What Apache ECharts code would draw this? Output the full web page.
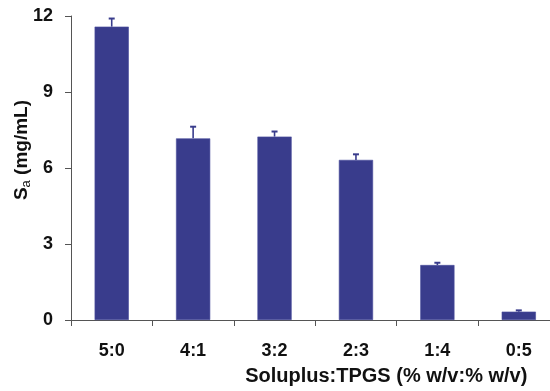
<!DOCTYPE html>
<html>
<head>
<meta charset="utf-8">
<script src="https://cdn.jsdelivr.net/npm/echarts@6/dist/echarts.min.js"></script>
<style>html,body{margin:0;padding:0;background:#fff}#c{width:550px;height:391px}</style>
</head>
<body>
<div id="c"></div>
<script>
var categories = ['5:0', '4:1', '3:2', '2:3', '1:4', '0:5'];
var values = [11.58, 7.17, 7.24, 6.32, 2.17, 0.33];
var errors = [0.32, 0.46, 0.2, 0.22, 0.09, 0.05];
var yTicks = [0, 3, 6, 9, 12];

var chart = echarts.init(document.getElementById('c'), null, {renderer: 'canvas'});
var font = 'Liberation Sans, Arial, sans-serif';
var axisColor = '#555';
var barColor = '#393C8C';

var errData = values.map(function (v, i) { return [i, v, v + errors[i]]; });

chart.setOption({
  animation: false,
  backgroundColor: '#fff',
  grid: {left: 71, top: 16, bottom: 71, right: -9.5, containLabel: false, outerBoundsMode: 'none'},
  xAxis: {
    type: 'category',
    data: categories,
    boundaryGap: true,
    axisLine: {lineStyle: {color: axisColor, width: 1}},
    axisTick: {show: true, length: 6, inside: false, alignWithLabel: false, lineStyle: {color: axisColor}},
    axisLabel: {margin: 22, color: '#111', fontFamily: font, fontWeight: 'bold', fontSize: 18},
    name: 'Soluplus:TPGS (% w/v:% w/v)',
    nameLocation: 'middle',
    nameGap: 46,
    nameMoveOverlap: false,
    nameTextStyle: {color: '#111', fontFamily: font, fontWeight: 'bold', fontSize: 20, padding: [0, 0, 0, 142]}
  },
  yAxis: {
    type: 'value',
    min: 0, max: 12, interval: 3,
    splitLine: {show: false},
    axisLine: {show: true, lineStyle: {color: axisColor, width: 1}},
    axisTick: {show: true, length: 6, inside: false, lineStyle: {color: axisColor}},
    axisLabel: {
      margin: 18, color: '#111', fontFamily: font, fontWeight: 'bold', fontSize: 18,
      formatter: function (v) { return yTicks.indexOf(v) >= 0 ? String(v) : ''; }
    },
    name: '{b|S}{s|a}{b| (mg/mL)}',
    nameLocation: 'middle',
    nameGap: 38,
    nameMoveOverlap: false,
    nameTextStyle: {
      color: '#111',
      padding: [0, 0, 0, 36],
      rich: {
        b: {fontFamily: font, fontWeight: 'bold', fontSize: 19, color: '#111'},
        s: {fontFamily: font, fontWeight: 'normal', fontSize: 13, color: '#111', verticalAlign: 'bottom', padding: [9, 0, 0, 0]}
      }
    }
  },
  series: [
    {
      type: 'bar',
      data: values,
      barWidth: '42%',
      itemStyle: {color: barColor, borderColor: '#4a4d9c', borderWidth: 0.6},
      z: 2
    },
    {
      type: 'custom',
      data: errData,
      z: 3,
      renderItem: function (params, api) {
        var x = api.value(0);
        var lo = api.coord([x, api.value(1)]);
        var hi = api.coord([x, api.value(2)]);
        var cap = 3;
        return {
          type: 'group',
          children: [
            {type: 'line', shape: {x1: lo[0], y1: lo[1], x2: hi[0], y2: hi[1]}, style: {stroke: barColor, lineWidth: 1.6}},
            {type: 'line', shape: {x1: hi[0] - cap, y1: hi[1], x2: hi[0] + cap, y2: hi[1]}, style: {stroke: barColor, lineWidth: 2}}
          ]
        };
      }
    }
  ]
});
</script>
</body>
</html>
